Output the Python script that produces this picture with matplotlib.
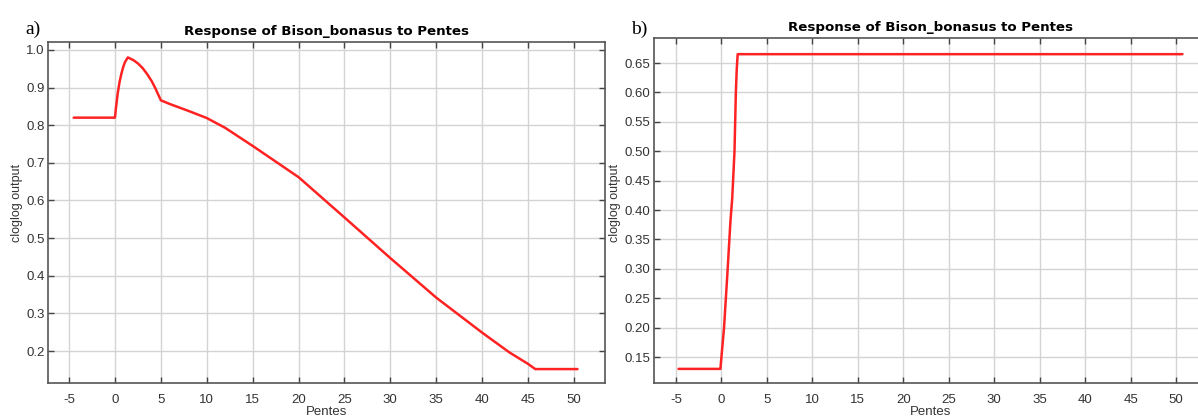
import matplotlib
matplotlib.use("Agg")
import matplotlib.pyplot as plt
import numpy as np

# Response curve a): cloglog output vs slope (Pentes)
slope_a = [-4.5, 0.0, 0.1, 0.3, 0.5, 0.7, 0.9, 1.1, 1.4, 2.0, 2.5, 3.0, 3.5, 4.0,
           4.4, 4.7, 5.0, 6.0, 8.0, 10.0, 12.0, 15.0, 20.0, 25.0, 30.0, 35.0,
           40.0, 43.0, 45.0, 45.8, 50.4]
output_a = [0.82, 0.82, 0.845, 0.885, 0.915, 0.937, 0.955, 0.968, 0.98, 0.973,
            0.964, 0.952, 0.936, 0.917, 0.898, 0.882, 0.866, 0.856, 0.838, 0.819,
            0.793, 0.745, 0.662, 0.555, 0.447, 0.342, 0.249, 0.196, 0.166, 0.152,
            0.152]

# Response curve b)
slope_b = [-4.7, -0.1, 0.3, 0.7, 1.0, 1.2, 1.45, 1.6, 1.7, 1.8, 50.7]
output_b = [0.13, 0.13, 0.20, 0.30, 0.38, 0.42, 0.50, 0.60, 0.64, 0.665, 0.665]

x_ticks = [-5, 0, 5, 10, 15, 20, 25, 30, 35, 40, 45, 50]
y_ticks_a = [0.2, 0.3, 0.4, 0.5, 0.6, 0.7, 0.8, 0.9, 1.0]
y_ticks_b = [0.15, 0.20, 0.25, 0.30, 0.35, 0.40, 0.45, 0.50, 0.55, 0.60, 0.65]

title = "Response of Bison_bonasus to Pentes"
xlabel = "Pentes"
ylabel = "cloglog output"

W, H = 1198, 419
fig = plt.figure(figsize=(W / 100, H / 100), dpi=100)


def box(l, t, r, b):
    return [l / W, 1 - b / H, (r - l) / W, (b - t) / H]


ax_a = fig.add_axes(box(48, 42, 605, 383))
ax_b = fig.add_axes(box(654, 38, 1207, 383))

sans = ["Liberation Sans", "DejaVu Sans"]
tick_font = {"family": sans, "size": 9.5}


def style(ax, yticks, fmt, ylabel_x, ylabel_y):
    ax.set_xticks(x_ticks)
    ax.set_yticks(yticks)
    ax.set_xticklabels([str(v) for v in x_ticks], fontdict=tick_font, color="#333333")
    ax.set_yticklabels([fmt.format(v) for v in yticks], fontdict=tick_font, color="#333333")
    ax.grid(True, color="#d4d4d4", linewidth=1.0)
    ax.set_axisbelow(True)
    ax.tick_params(direction="in", length=4, width=1, color="#444444",
                   top=True, right=True)
    ax.tick_params(axis="x", pad=8)
    ax.tick_params(axis="y", pad=2.5)
    for s in ax.spines.values():
        s.set_color("#555555")
        s.set_linewidth(1.2)
    ax.set_title(title, fontsize=9.6, fontweight="bold",
                 family="DejaVu Sans", pad=5)
    ax.set_xlabel(xlabel, fontdict={"family": sans, "size": 9.5},
                  color="#333333", labelpad=0)
    ax.set_ylabel(ylabel, fontdict={"family": sans, "size": 9},
                  color="#333333")
    ax.yaxis.set_label_coords(ylabel_x, ylabel_y)


ax_a.plot(slope_a, output_a, color="#ff2222", linewidth=1.8,
          solid_joinstyle="round", solid_capstyle="round")
ax_a.set_xlim(-7.3, 53.4)
ax_a.set_ylim(0.115, 1.021)
style(ax_a, y_ticks_a, "{:.1f}", (23 - 48) / 557, 0.528)

ax_b.plot(slope_b, output_b, color="#ff2222", linewidth=1.8,
          solid_joinstyle="round", solid_capstyle="round")
ax_b.set_xlim(-7.4, 53.4)
ax_b.set_ylim(0.106, 0.6925)
style(ax_b, y_ticks_b, "{:.2f}", (621 - 654) / 553, 0.522)

serif = ["Liberation Serif", "DejaVu Serif"]
fig.text(25 / W, 1 - 34 / H, "a)", family=serif, fontsize=14)
fig.text(631 / W, 1 - 34 / H, "b)", family=serif, fontsize=14)

fig.savefig("out.png", dpi=100)
